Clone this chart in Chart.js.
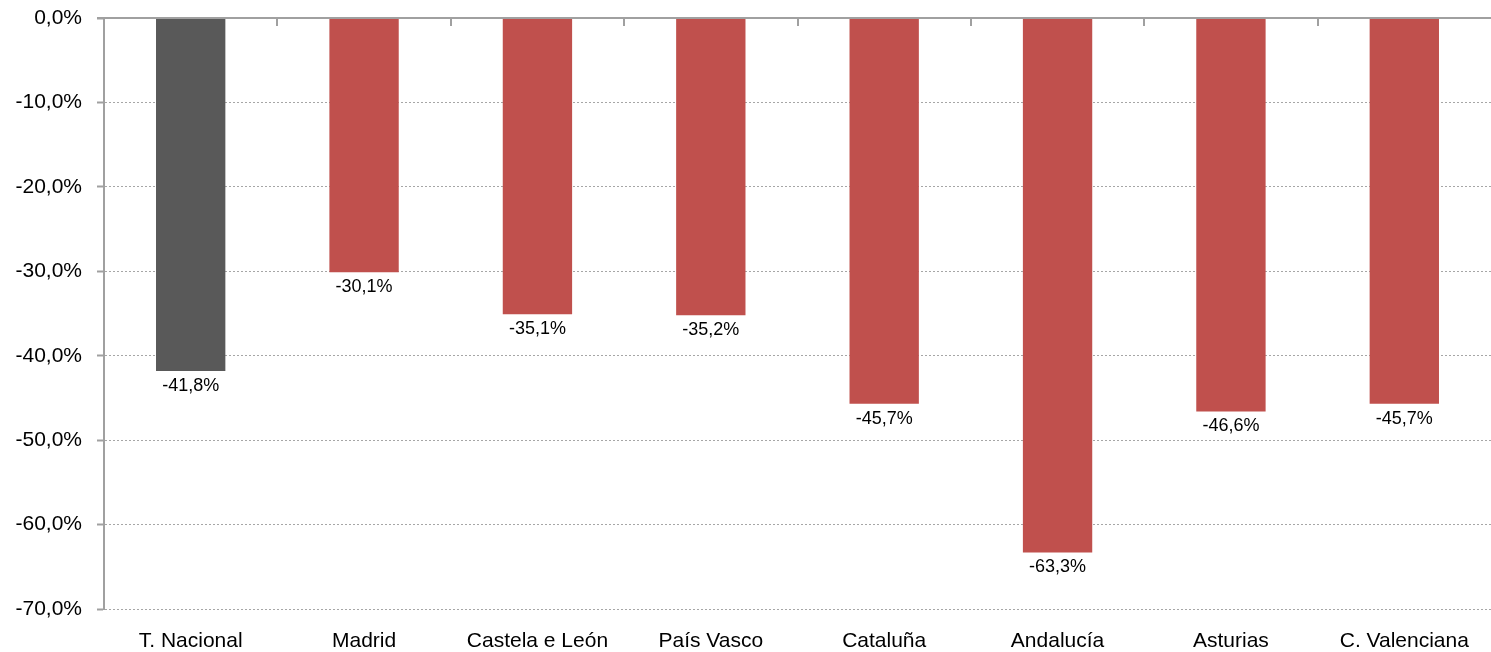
<!DOCTYPE html>
<html>
<head>
<meta charset="utf-8">
<script src="https://cdn.jsdelivr.net/npm/chart.js@4.4.1/dist/chart.umd.min.js"></script>
<style>
  html, body { margin: 0; padding: 0; background: #fff; }
  #wrap { width: 1491px; height: 652px; }
</style>
</head>
<body>
<div id="wrap"><canvas id="grafico"></canvas></div>
<script>
// datos
const regiones = ['T. Nacional', 'Madrid', 'Castela e León', 'País Vasco', 'Cataluña', 'Andalucía', 'Asturias', 'C. Valenciana'];
const variacion = [-41.8, -30.1, -35.1, -35.2, -45.7, -63.3, -46.6, -45.7];
const coresBarras = ['#595959', '#C0504D', '#C0504D', '#C0504D', '#C0504D', '#C0504D', '#C0504D', '#C0504D'];
const ejeMin = -70, ejeMax = 0, paso = 10;

const fmt = v => v.toFixed(1).replace('.', ',') + '%';
const fuente = "'Liberation Sans', Arial, sans-serif";

// linea do cero, marcas de categoría e etiquetas
const extras = {
  id: 'extras',
  afterDatasetsDraw(chart) {
    const ctx = chart.ctx;
    const y = chart.scales.y;
    const area = chart.chartArea;
    const y0 = Math.round(y.getPixelForValue(0));
    ctx.save();
    ctx.strokeStyle = '#A0A0A0';
    ctx.lineWidth = 2;
    ctx.beginPath();
    ctx.moveTo(area.left - 7, y0);
    ctx.lineTo(area.right, y0);
    ctx.stroke();
    // marcas entre categorías
    const n = regiones.length;
    const ancho = (area.right - area.left) / n;
    ctx.beginPath();
    for (let i = 1; i < n; i++) {
      const xp = Math.round(area.left + ancho * i);
      ctx.moveTo(xp, y0);
      ctx.lineTo(xp, y0 + 8);
    }
    ctx.stroke();

    // etiquetas de valor
    ctx.fillStyle = '#000';
    ctx.font = '18px ' + fuente;
    ctx.textAlign = 'center';
    ctx.textBaseline = 'middle';
    chart.getDatasetMeta(0).data.forEach((bar, i) => {
      ctx.fillText(fmt(variacion[i]), bar.x, bar.y + 15);
    });
    ctx.restore();
  }
};

new Chart(document.getElementById('grafico').getContext('2d'), {
  type: 'bar',
  data: {
    labels: regiones,
    datasets: [{
      data: variacion,
      backgroundColor: coresBarras,
      borderWidth: 0,
      categoryPercentage: 1,
      barPercentage: 0.4
    }]
  },
  options: {
    responsive: true,
    maintainAspectRatio: false,
    animation: false,
    layout: { padding: 0 },
    plugins: {
      legend: { display: false },
      tooltip: { enabled: false }
    },
    scales: {
      x: {
        position: 'bottom',
        grid: { display: false, drawTicks: false },
        border: { display: false },
        ticks: {
          color: '#000',
          font: { family: fuente, size: 21 },
          padding: 20,
          maxRotation: 0
        },
        afterFit: s => { s.height = 43; }
      },
      y: {
        min: ejeMin,
        max: ejeMax,
        ticks: {
          stepSize: paso,
          color: '#000',
          font: { family: fuente, size: 21 },
          padding: 15,
          callback: v => fmt(v)
        },
        afterFit: s => { s.width = 104; s.paddingTop = 18; s.paddingBottom = 0; },
        grid: {
          color: ctx => ctx.tick && ctx.tick.value === 0 ? 'rgba(0,0,0,0)' : '#A6A6A6',
          lineWidth: 1,
          tickLength: 7,
          tickColor: '#A0A0A0',
          tickWidth: 2,
          tickBorderDash: []
        },
        border: {
          display: true,
          color: '#A0A0A0',
          width: 2,
          dash: [2, 2]
        }
      }
    }
  },
  plugins: [extras]
});
</script>
</body>
</html>
